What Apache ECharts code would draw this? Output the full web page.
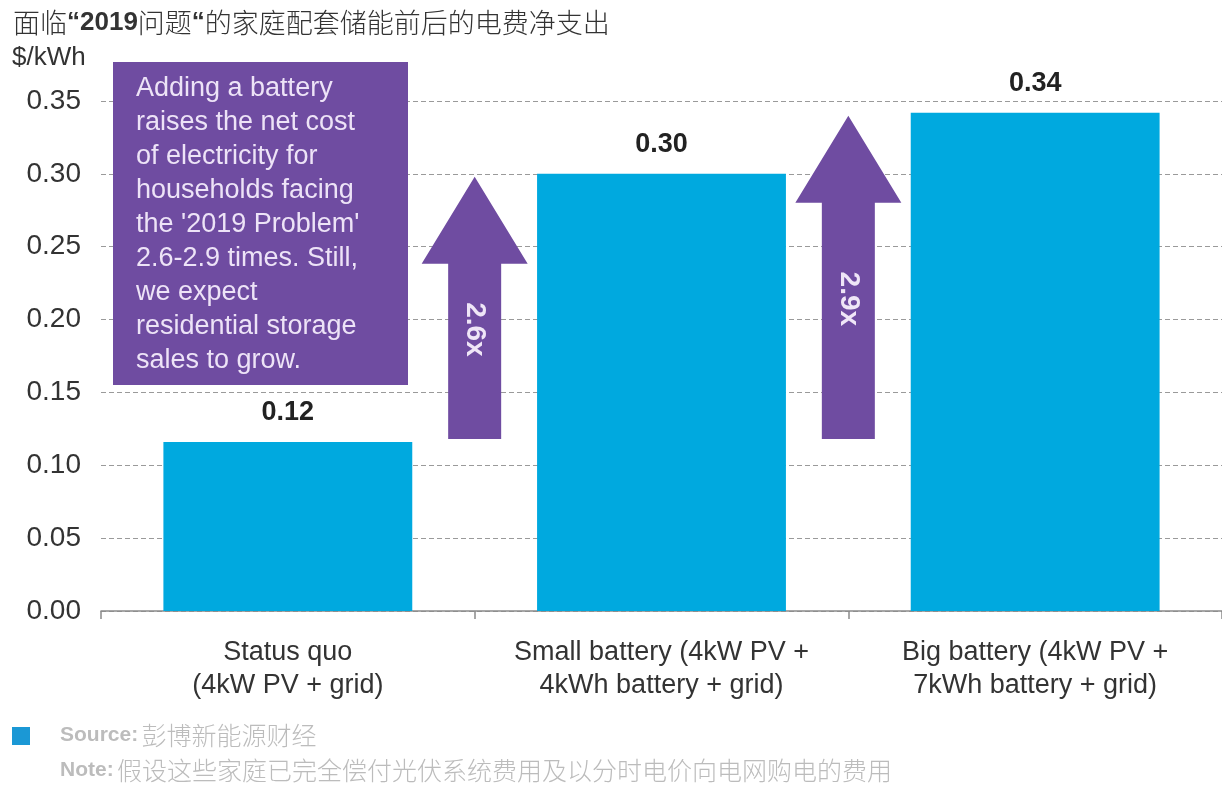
<!DOCTYPE html>
<html>
<head>
<meta charset="utf-8">
<script src="https://cdn.jsdelivr.net/npm/echarts@6/dist/echarts.min.js"></script>
<style>html,body{margin:0;padding:0;background:#fff;}#c{width:1222px;height:785px;}</style>
</head>
<body>
<div id="c"></div>
<script>
// ---- data ----
var categories = ['Status quo\n(4kW PV + grid)', 'Small battery (4kW PV +\n4kWh battery + grid)', 'Big battery (4kW PV +\n7kWh battery + grid)'];
var costValues = [0.116, 0.300, 0.342];
var yTicks = { min: 0, max: 0.35, interval: 0.05 };
var multipliers = ['2.6x', '2.9x'];
var titleText = ['面临', '“2019', '问题', '“', '的家庭配套储能前后的电费净支出'];
var unitText = '$/kWh';
var noteLines = [
  'Adding a battery', 'raises the net cost', 'of electricity for', 'households facing',
  "the '2019 Problem'", '2.6-2.9 times. Still,', 'we expect', 'residential storage', 'sales to grow.'
];
var sourceText = '彭博新能源财经';
var noteText = '假设这些家庭已完全偿付光伏系统费用及以分时电价向电网购电的费用';

// ---- styles ----
var FONT = '"Liberation Sans", Arial, "Noto Sans CJK SC", sans-serif';
var CJK = '"Noto Sans CJK SC", "Liberation Sans", sans-serif';
var BLUE = '#00a9df';
var PURPLE = '#6f4ca1';
var TEXT = '#333333';

var chart = echarts.init(document.getElementById('c'), null, { renderer: 'canvas' });

var option = {
  backgroundColor: '#ffffff',
  animation: false,
  title: {
    left: 8, top: 4,
    text: '{a|' + titleText[0] + '}{b|' + titleText[1] + '}{a|' + titleText[2] + '}{q|' + titleText[3] + '}{a|' + titleText[4] + '}',
    textStyle: {
      fontWeight: 'normal',
      rich: {
        a: { fontFamily: CJK, fontSize: 27, fontWeight: 300, color: TEXT },
        b: { fontFamily: FONT, fontSize: 26, fontWeight: 'bold', color: TEXT },
        q: { fontFamily: FONT, fontSize: 26, fontWeight: 'bold', color: TEXT }
      }
    }
  },
  grid: { left: 101, right: -1, top: 101, bottom: 174, containLabel: false },
  xAxis: {
    type: 'category',
    data: categories,
    axisLine: { show: true, lineStyle: { color: '#8a8a8a', width: 1.5 } },
    axisTick: { show: true, interval: 0, length: 8, lineStyle: { color: '#8a8a8a', width: 1.5 } },
    axisLabel: { interval: 0, fontFamily: FONT, fontSize: 27, color: TEXT, lineHeight: 33, margin: 25 }
  },
  yAxis: {
    type: 'value',
    min: yTicks.min, max: yTicks.max, interval: yTicks.interval,
    axisLine: { show: false },
    axisTick: { show: false },
    axisLabel: {
      fontFamily: FONT, fontSize: 28, color: TEXT, margin: 20,
      formatter: function (v) { return v.toFixed(2); }
    },
    splitLine: { show: true, lineStyle: { color: '#9a9a9a', type: [5, 3], width: 1.2 } }
  },
  series: [{
    type: 'bar',
    data: costValues,
    barWidth: '66.6%',
    itemStyle: { color: BLUE },
    label: {
      show: true, position: 'top', distance: 16,
      fontFamily: FONT, fontSize: 27, fontWeight: 'bold', color: '#222',
      formatter: function (p) { return p.value.toFixed(2); }
    }
  }]
};
chart.setOption(option);

function arrowShape(cx, yTop, yBottom) {
  var shaftHalf = 26.5, headHalf = 53, headLen = 87;
  var yBase = yTop + headLen;
  return [
    [cx - shaftHalf, yBottom], [cx - shaftHalf, yBase], [cx - headHalf, yBase],
    [cx, yTop], [cx + headHalf, yBase], [cx + shaftHalf, yBase], [cx + shaftHalf, yBottom]
  ];
}

var graphics = [];
// unit label
graphics.push({ type: 'text', left: 12, top: 45, style: { text: unitText, font: '26px ' + FONT, fill: TEXT } });

// arrows between consecutive categories, from the status quo level up to each battery level
for (var i = 0; i < multipliers.length; i++) {
  var xA = chart.convertToPixel({ xAxisIndex: 0 }, i);
  var xB = chart.convertToPixel({ xAxisIndex: 0 }, i + 1);
  var cx = (xA + xB) / 2;
  var yTop = chart.convertToPixel({ yAxisIndex: 0 }, costValues[i + 1]) + 3;
  var yBottom = chart.convertToPixel({ yAxisIndex: 0 }, costValues[0]) - 3;
  graphics.push({ type: 'polygon', shape: { points: arrowShape(cx, yTop, yBottom) }, style: { fill: PURPLE }, z: 10 });
  var yMid = (yTop + 87 + yBottom) / 2 - 22;
  graphics.push({
    type: 'text', x: cx, y: yMid, rotation: -Math.PI / 2, z: 11,
    style: { text: multipliers[i], font: 'bold 28px ' + FONT, fill: '#efe6f7', align: 'center', verticalAlign: 'middle' }
  });
}

// annotation box
graphics.push({ type: 'rect', shape: { x: 113, y: 62, width: 295, height: 323 }, style: { fill: PURPLE }, z: 10 });
graphics.push({
  type: 'text', x: 136, y: 72, z: 11,
  style: { text: noteLines.join('\n'), font: '27px ' + FONT, lineHeight: 34, fill: '#ede3f7' }
});

// source / note footer
graphics.push({ type: 'rect', shape: { x: 12, y: 727, width: 18, height: 18 }, style: { fill: '#1b98d5' } });
graphics.push({
  type: 'text', x: 60, y: 735,
  style: {
    text: '{b|Source:} {a|' + sourceText + '}', verticalAlign: 'middle',
    rich: { b: { font: 'bold 21px ' + FONT, fill: '#bcbcbc' }, a: { font: '300 25px ' + CJK, fill: '#bcbcbc' } }
  }
});
graphics.push({
  type: 'text', x: 60, y: 770,
  style: {
    text: '{b|Note:} {a|' + noteText + '}', verticalAlign: 'middle',
    rich: { b: { font: 'bold 21px ' + FONT, fill: '#bcbcbc' }, a: { font: '300 25px ' + CJK, fill: '#bcbcbc' } }
  }
});

chart.setOption({ graphic: { elements: graphics } });
</script>
</body>
</html>
